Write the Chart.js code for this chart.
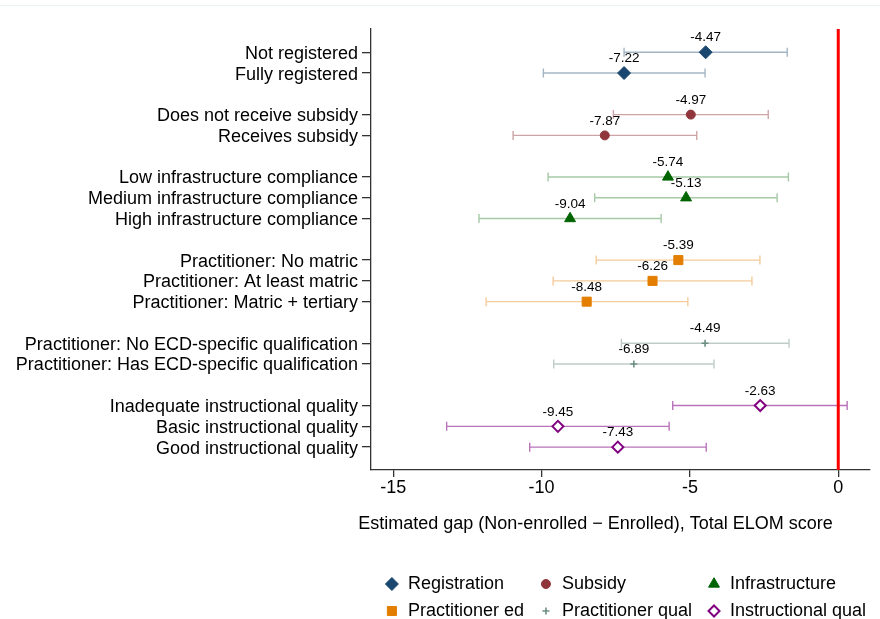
<!DOCTYPE html>
<html>
<head>
<meta charset="utf-8">
<script src="https://cdn.jsdelivr.net/npm/chart.js@4"></script>
<style>
  body { margin: 0; background: #fff; }
  #caja { width: 880px; height: 619px; }
</style>
</head>
<body>
<div id="caja"><canvas id="grafico" width="880" height="619"></canvas></div>
<script>
// Categorías (filas del gráfico), en orden de arriba hacia abajo
const categorias = [
  "Not registered", "Fully registered",
  "Does not receive subsidy", "Receives subsidy",
  "Low infrastructure compliance", "Medium infrastructure compliance", "High infrastructure compliance",
  "Practitioner: No matric", "Practitioner: At least matric", "Practitioner: Matric + tertiary",
  "Practitioner: No ECD-specific qualification", "Practitioner: Has ECD-specific qualification",
  "Inadequate instructional quality", "Basic instructional quality", "Good instructional quality"
];
// A qué grupo pertenece cada categoría
const grupoDe = [0, 0, 1, 1, 2, 2, 2, 3, 3, 3, 4, 4, 5, 5, 5];
const grupos = ["Registration", "Subsidy", "Infrastructure", "Practitioner ed", "Practitioner qual", "Instructional qual"];

// Estimaciones e intervalos de confianza
const estimaciones = [-4.47, -7.22, -4.97, -7.87, -5.74, -5.13, -9.04, -5.39, -6.26, -8.48, -4.49, -6.89, -2.63, -9.45, -7.43];
const limiteInf = [-7.22, -9.94, -7.58, -10.96, -9.78, -8.21, -12.11, -8.16, -9.61, -11.87, -7.31, -9.59, -5.58, -13.20, -10.40];
const limiteSup = [-1.72, -4.49, -2.36, -4.77, -1.68, -2.06, -5.97, -2.64, -2.91, -5.07, -1.66, -4.19, 0.30, -5.70, -4.45];

const ticksX = [-15, -10, -5, 0];
const tituloX = "Estimated gap (Non-enrolled \u2212 Enrolled), Total ELOM score";

// Estilo de cada grupo
const colores = ["#1a476f", "#90353b", "#006400", "#e37e00", "#6e8e84", "#800080"];
const coloresIC = [
  "rgba(26,71,111,0.4)", "rgba(144,53,59,0.45)", "rgba(0,100,0,0.35)",
  "rgba(227,126,0,0.4)", "rgba(110,142,132,0.45)", "rgba(128,0,128,0.55)"
];
const formas = ["rectRot", "circle", "triangle", "rect", "cross", "rectRot"];
const radios = [6.5, 4.5, 6.3, 6.4, 3.5, 5.5];

// Una fila en blanco entre grupos
const filas = categorias.map((c, i) => i + grupoDe[i]);
const etiquetaFila = {};
filas.forEach((f, i) => (etiquetaFila[f] = categorias[i]));

const FUENTE = "'Liberation Sans', Arial, Helvetica, sans-serif";

const datasets = grupos.map((g, k) => {
  const puntos = [];
  categorias.forEach((c, i) => {
    if (grupoDe[i] === k) {
      puntos.push({ x: estimaciones[i], y: filas[i], lo: limiteInf[i], hi: limiteSup[i] });
    }
  });
  const abierto = k === 5;
  return {
    label: g,
    data: puntos,
    pointStyle: formas[k],
    pointRadius: radios[k],
    backgroundColor: abierto ? "#ffffff" : colores[k],
    borderColor: colores[k],
    borderWidth: abierto ? 2 : k === 4 ? 1.6 : 1,
    colorIC: coloresIC[k],
  };
});

const extras = {
  id: "extras",
  beforeDatasetsDraw(chart) {
    const { ctx, chartArea, scales } = chart;
    const x = scales.x, y = scales.y;
    ctx.save();
    // línea fina superior
    ctx.strokeStyle = "#eaf1f2";
    ctx.lineWidth = 1;
    ctx.beginPath();
    ctx.moveTo(0, 5.5);
    ctx.lineTo(chart.width, 5.5);
    ctx.stroke();
    // barras de error
    chart.data.datasets.forEach((ds) => {
      ctx.strokeStyle = ds.colorIC;
      ctx.lineWidth = 1.4;
      ds.data.forEach((p) => {
        const py = y.getPixelForValue(p.y);
        const xl = x.getPixelForValue(p.lo);
        const xh = x.getPixelForValue(p.hi);
        ctx.beginPath();
        ctx.moveTo(xl, py);
        ctx.lineTo(xh, py);
        ctx.moveTo(xl, py - 4.5);
        ctx.lineTo(xl, py + 4.5);
        ctx.moveTo(xh, py - 4.5);
        ctx.lineTo(xh, py + 4.5);
        ctx.stroke();
      });
    });
    // línea roja en cero
    const x0 = x.getPixelForValue(0);
    ctx.strokeStyle = "#ff0000";
    ctx.lineWidth = 3;
    ctx.beginPath();
    ctx.moveTo(x0, chartArea.top);
    ctx.lineTo(x0, chartArea.bottom);
    ctx.stroke();
    ctx.restore();
  },
  afterDatasetsDraw(chart) {
    const { ctx, scales } = chart;
    ctx.save();
    ctx.fillStyle = "#000";
    ctx.font = "13.5px " + FUENTE;
    ctx.textAlign = "center";
    ctx.textBaseline = "middle";
    chart.data.datasets.forEach((ds) => {
      ds.data.forEach((p) => {
        ctx.fillText(p.x.toFixed(2), scales.x.getPixelForValue(p.x), scales.y.getPixelForValue(p.y) - 14.5);
      });
    });
    ctx.restore();
  },
  afterDraw(chart) {
    const { ctx, chartArea } = chart;
    const ds = chart.data.datasets;
    ctx.save();
    ctx.font = "18px " + FUENTE;
    ctx.fillStyle = "#000";
    ctx.textBaseline = "middle";
    // título del eje x (centrado como en el original)
    ctx.textAlign = "center";
    ctx.fillText(tituloX, (chartArea.left + chartArea.right) / 2 - 25, chartArea.bottom + 54);
    // leyenda en 3 columnas
    const anchos = [0, 1, 2].map((c) =>
      16 + Math.max(ctx.measureText(ds[c].label).width, ctx.measureText(ds[c + 3].label).width) + 22
    );
    const total = anchos.reduce((a, b) => a + b, 0) - 22 + 6;
    let x = (chartArea.left + chartArea.right) / 2 - total / 2 + 11.5;
    const filasY = [chartArea.bottom + 114, chartArea.bottom + 141];
    [0, 1, 2].forEach((c) => {
      [0, 1].forEach((r) => {
        const d = ds[c + r * 3];
        const py = filasY[r];
        ctx.fillStyle = d.backgroundColor;
        ctx.strokeStyle = d.borderColor;
        ctx.lineWidth = d.borderWidth;
        Chart.helpers.drawPoint(ctx, { pointStyle: d.pointStyle, radius: d.pointRadius, borderWidth: d.borderWidth }, x, py);
        ctx.fillStyle = "#000";
        ctx.textAlign = "left";
        ctx.fillText(d.label, x + 16, py);
      });
      x += anchos[c];
    });
    ctx.restore();
  },
};

new Chart(document.getElementById("grafico"), {
  type: "scatter",
  data: { datasets: datasets },
  options: {
    responsive: false,
    animation: false,
    events: [],
    layout: { padding: { top: 29, right: 10, bottom: 74, left: 0 } },
    plugins: { legend: { display: false }, tooltip: { enabled: false } },
    scales: {
      x: {
        type: "linear",
        min: -15.75,
        max: 1.07,
        afterBuildTicks: (eje) => {
          eje.ticks = ticksX.map((v) => ({ value: v }));
        },
        afterFit: (eje) => {
          eje.height = 75;
        },
        border: { display: true, color: "#333", width: 1.3 },
        grid: { drawOnChartArea: false, drawTicks: true, tickLength: 7, color: "#333", lineWidth: 1.3 },
        ticks: { color: "#000", font: { size: 18, family: FUENTE }, padding: 0, maxRotation: 0 },
      },
      y: {
        type: "linear",
        reverse: true,
        min: -1.12,
        max: 20.1,
        afterBuildTicks: (eje) => {
          eje.ticks = filas.map((v) => ({ value: v }));
        },
        afterFit: (eje) => {
          eje.width = 371;
        },
        border: { display: true, color: "#333", width: 1.3 },
        grid: { drawOnChartArea: false, drawTicks: true, tickLength: 9, color: "#333", lineWidth: 1.3 },
        ticks: {
          autoSkip: false,
          color: "#000",
          font: { size: 18, family: FUENTE },
          padding: 4,
          labelOffset: 1.5,
          callback: (v) => etiquetaFila[v] || "",
        },
      },
    },
  },
  plugins: [extras],
});
</script>
</body>
</html>
